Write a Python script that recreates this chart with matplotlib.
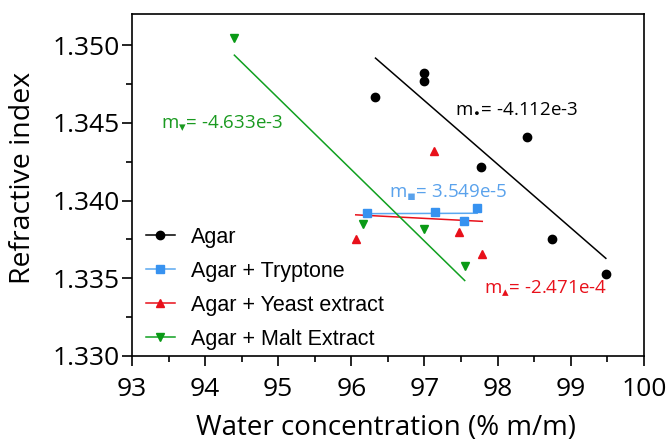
"""Refractive index vs water concentration, agar media"""
import matplotlib
matplotlib.use('Agg')
import matplotlib.pyplot as plt
from matplotlib.ticker import MultipleLocator, FormatStrFormatter
import numpy as np

plt.rcParams['font.family'] = ['Open Sans', 'DejaVu Sans']
plt.rcParams['mathtext.fontset'] = 'dejavusans'

# ---- data ----
agar_x = [96.33, 96.99, 96.99, 97.77, 98.40, 98.74, 99.48]
agar_y = [1.34664, 1.34822, 1.34771, 1.34217, 1.34408, 1.33755, 1.33528]

tryp_x = [96.22, 97.15, 97.54, 97.72]
tryp_y = [1.33918, 1.33926, 1.33871, 1.33954]

yeast_x = [96.06, 97.13, 97.47, 97.79]
yeast_y = [1.33755, 1.34320, 1.33798, 1.33657]

malt_x = [94.40, 96.16, 96.99, 97.55]
malt_y = [1.35043, 1.33851, 1.33817, 1.33578]

labels = ['Agar', 'Agar + Tryptone', 'Agar + Yeast extract', 'Agar + Malt Extract']
slopes = ['-4.112e-3', '3.549e-5', '-2.471e-4', '-4.633e-3']
# where the slope text sits (x start, y centre)
slope_pos = [(97.42, 1.34594), (96.52, 1.34048), (97.82, 1.33428), (93.40, 1.34493)]

series = [(agar_x, agar_y), (tryp_x, tryp_y), (yeast_x, yeast_y), (malt_x, malt_y)]
markers = ['o', 's', '^', 'v']
pt_colors = ['#000000', '#3792F0', '#E8101A', '#0A9A16']
line_colors = ['#000000', '#5AA8F0', '#E8101A', '#10A020']
txt_colors = ['#000000', '#5AA2EC', '#E8101A', '#1A9A20']
sub_sym = ['\u2022', '\u25AA', '\u25B4', '\u25BE']

fig = plt.figure(figsize=(6.7, 4.47), dpi=100)
ax = fig.add_axes([0.197, 0.2036, 0.764, 0.7651])

for (xs, ys), mk, pc, lc, lab in zip(series, markers, pt_colors, line_colors, labels):
    xs = np.array(xs)
    ys = np.array(ys)
    ax.plot(xs, ys, linestyle='none', marker=mk, color=pc, markersize=6, zorder=3)
    k, b = np.polyfit(xs, ys, 1)
    fx = np.array([xs.min(), xs.max()])
    ax.plot(fx, k * fx + b, color=lc, linewidth=1.1, zorder=2)
    # legend handle: line with marker
    ax.plot([], [], color=lc, marker=mk, markerfacecolor=pc, markeredgecolor=pc,
            markersize=6, linewidth=1.1, label=lab)

for (tx, ty), s, c, sym in zip(slope_pos, slopes, txt_colors, sub_sym):
    ax.text(tx, ty, 'm$_{%s}$= %s' % (sym, s), color=c, fontsize=13.5,
            ha='left', va='center')

ax.set_xlim(93, 100)
ax.set_ylim(1.330, 1.352)
ax.xaxis.set_major_locator(MultipleLocator(1))
ax.xaxis.set_minor_locator(MultipleLocator(0.5))
ax.yaxis.set_major_locator(MultipleLocator(0.005))
ax.yaxis.set_minor_locator(MultipleLocator(0.0025))
ax.yaxis.set_major_formatter(FormatStrFormatter('%.3f'))

ax.tick_params(which='major', direction='out', length=7, width=1.2, labelsize=19)
ax.tick_params(axis='x', which='major', pad=8)
ax.tick_params(axis='y', which='major', pad=2)
ax.tick_params(which='minor', direction='out', length=4, width=1.2)
for sp in ax.spines.values():
    sp.set_linewidth(1.2)

ax.set_xlabel('Water concentration (% m/m)', fontsize=20, va='center')
ax.set_ylabel('Refractive index', fontsize=20.5, va='center')
ax.xaxis.set_label_coords(0.496, -0.212)
ax.yaxis.set_label_coords(-0.213, 0.52)

leg = ax.legend(loc='lower left', bbox_to_anchor=(0.014, 0.0), frameon=False,
                handlelength=1.35, handletextpad=0.75,
                labelspacing=0.6, borderaxespad=0.1, borderpad=0.2,
                prop={'family': 'Liberation Sans', 'size': 15.5})

fig.savefig('out.png', dpi=100)
plt.close()
